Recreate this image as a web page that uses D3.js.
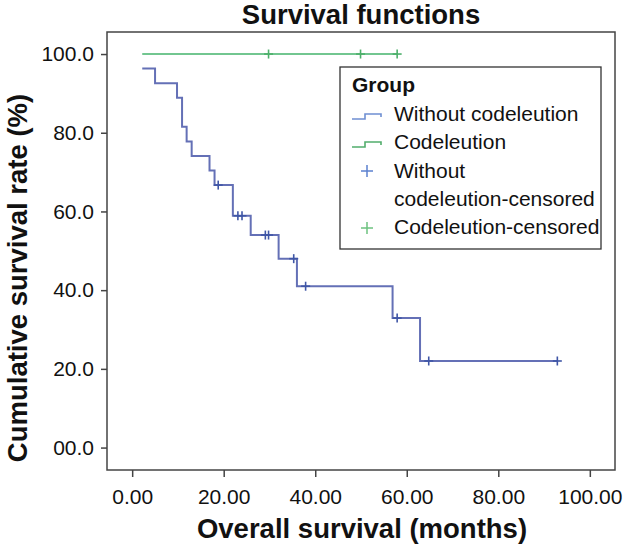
<!DOCTYPE html>
<html>
<head>
<meta charset="utf-8">
<script src="https://cdn.jsdelivr.net/npm/d3@7"></script>
<style>
  html, body { margin: 0; padding: 0; background: #fff; }
  svg { display: block; font-family: "Liberation Sans", Arial, sans-serif; }
</style>
</head>
<body>
<div id="chart"></div>
<script>
// ---------------- DATA ----------------
const titleText = "Survival functions";
const xTitle = "Overall survival (months)";
const yTitle = "Cumulative survival rate (%)";

const xTickValues = [0, 20, 40, 60, 80, 100];
const xTickLabels = ["0.00", "20.00", "40.00", "60.00", "80.00", "100.00"];
const yTickValues = [0, 20, 40, 60, 80, 100];
const yTickLabels = ["00.0", "20.0", "40.0", "60.0", "80.0", "100.0"];

const legendTitle = "Group";
const legendLabels = ["Without codeleution", "Codeleution", ["Without", "codeleution-censored"], "Codeleution-censored"];

// Group 1: Without codeletion (step times and survival after each step, %)
const blueTimes = [2.2, 5.0, 9.8, 10.9, 11.9, 13.0, 16.9, 18.0, 22.0, 25.9, 32.0, 36.0, 56.9, 62.9];
const blueSurv  = [96.3, 92.6, 88.9, 81.5, 77.8, 74.1, 70.4, 66.7, 58.9, 54.0, 48.0, 41.0, 32.9, 22.0];
const blueEnd = 92.9;
const blueCensored = [18.8, 23.1, 24.0, 29.1, 29.8, 35.3, 37.9, 57.9, 64.8, 92.9];

// Group 2: Codeletion
const greenTimes = [2.2];
const greenSurv  = [100.0];
const greenEnd = 57.9;
const greenCensored = [29.8, 49.9, 57.9];

// ---------------- LAYOUT ----------------
const W = 623, H = 544;
const M = { left: 107, right: 8, top: 32, bottom: 74 };
const colors = {
  blueLine: "#6470b6", blueMark: "#3f56a6",
  greenLine: "#72c690", greenMark: "#4caf6a",
  blueIcon: "#6f8fd2", greenIcon: "#52ad6c",
  blueLegPlus: "#5b80cf", greenLegPlus: "#6cc27f",
  frame: "#444", text: "#111"
};
const titleSize = 27.5;

const svg = d3.select("#chart").append("svg").attr("width", W).attr("height", H);

const x = d3.scaleLinear().domain([-5.5, 105.5]).range([M.left, W - M.right]);
const y = d3.scaleLinear().domain([-5.7, 105.6]).range([H - M.bottom, M.top]);

// frame
svg.append("rect")
  .attr("x", M.left).attr("y", M.top)
  .attr("width", W - M.right - M.left).attr("height", H - M.bottom - M.top)
  .attr("fill", "none").attr("stroke", colors.frame).attr("stroke-width", 1.5);

// axes
const xAxis = d3.axisBottom(x).tickValues(xTickValues)
  .tickFormat((d, i) => xTickLabels[i]).tickSize(7).tickPadding(12).tickSizeOuter(0);
const gx = svg.append("g").attr("transform", `translate(0,${H - M.bottom})`).call(xAxis);
gx.select(".domain").remove();
gx.selectAll("line").attr("stroke", colors.frame).attr("stroke-width", 1.5);
gx.selectAll("text").attr("font-size", 21).attr("fill", colors.text);

const yAxis = d3.axisLeft(y).tickValues(yTickValues)
  .tickFormat((d, i) => yTickLabels[i]).tickSize(6).tickPadding(7).tickSizeOuter(0);
const gy = svg.append("g").attr("transform", `translate(${M.left},0)`).call(yAxis);
gy.select(".domain").remove();
gy.selectAll("line").attr("stroke", colors.frame).attr("stroke-width", 1.5);
gy.selectAll("text").attr("font-size", 21).attr("fill", colors.text);

// titles
svg.append("text").attr("x", 361).attr("y", 24)
  .attr("text-anchor", "middle").attr("font-size", titleSize).attr("font-weight", "bold")
  .attr("fill", colors.text).text(titleText);
svg.append("text").attr("x", 362).attr("y", 538)
  .attr("text-anchor", "middle").attr("font-size", titleSize).attr("font-weight", "bold")
  .attr("fill", colors.text).text(xTitle);
svg.append("text").attr("transform", "translate(27,278) rotate(-90)")
  .attr("text-anchor", "middle").attr("font-size", titleSize).attr("font-weight", "bold")
  .attr("fill", colors.text).text(yTitle);

// survival step curves
function stepPoints(times, surv, end) {
  const pts = times.map((t, i) => [t, surv[i]]);
  pts.push([end, surv[surv.length - 1]]);
  return pts;
}
function survAt(times, surv, t) {
  let s = surv[0];
  for (let i = 0; i < times.length; i++) if (times[i] <= t + 1e-9) s = surv[i];
  return s;
}
const line = d3.line().x(d => x(d[0])).y(d => y(d[1])).curve(d3.curveStepAfter);

const plot = svg.append("g");
plot.append("path").datum(stepPoints(greenTimes, greenSurv, greenEnd))
  .attr("d", line).attr("fill", "none").attr("stroke", colors.greenLine).attr("stroke-width", 2);
plot.append("path").datum(stepPoints(blueTimes, blueSurv, blueEnd))
  .attr("d", line).attr("fill", "none").attr("stroke", colors.blueLine).attr("stroke-width", 2);

function drawCensor(g, times, surv, cens, color, r) {
  cens.forEach(t => {
    const cx = x(t), cy = y(survAt(times, surv, t));
    g.append("line").attr("x1", cx - r).attr("x2", cx + r).attr("y1", cy).attr("y2", cy)
      .attr("stroke", color).attr("stroke-width", 1.6);
    g.append("line").attr("x1", cx).attr("x2", cx).attr("y1", cy - r).attr("y2", cy + r)
      .attr("stroke", color).attr("stroke-width", 1.6);
  });
}
drawCensor(plot, greenTimes, greenSurv, greenCensored, colors.greenMark, 4.5);
drawCensor(plot, blueTimes, blueSurv, blueCensored, colors.blueMark, 4.5);

// legend
const leg = svg.append("g");
leg.append("rect").attr("x", 340).attr("y", 67).attr("width", 261).attr("height", 182)
  .attr("fill", "#fff").attr("stroke", "#333").attr("stroke-width", 1.3);
leg.append("text").attr("x", 352).attr("y", 92).attr("font-size", 21).attr("font-weight", "bold")
  .attr("fill", colors.text).text(legendTitle);

function stepIcon(yy, color) {
  const p = d3.path();
  p.moveTo(352, yy + 2); p.lineTo(365, yy + 2); p.lineTo(365, yy - 3);
  p.lineTo(381, yy - 3); p.lineTo(381, yy);
  leg.append("path").attr("d", p.toString()).attr("fill", "none")
    .attr("stroke", color).attr("stroke-width", 1.6);
}
function plusIcon(cx, cy, color) {
  leg.append("line").attr("x1", cx - 6).attr("x2", cx + 6).attr("y1", cy).attr("y2", cy)
    .attr("stroke", color).attr("stroke-width", 1.5);
  leg.append("line").attr("x1", cx).attr("x2", cx).attr("y1", cy - 6).attr("y2", cy + 6)
    .attr("stroke", color).attr("stroke-width", 1.5);
}
stepIcon(117, colors.blueIcon);
stepIcon(145, colors.greenIcon);
plusIcon(367, 171, colors.blueLegPlus);
plusIcon(367, 228, colors.greenLegPlus);

const tx = 394;
leg.append("text").attr("x", tx).attr("y", 121).attr("font-size", 21).attr("fill", colors.text).text(legendLabels[0]);
leg.append("text").attr("x", tx).attr("y", 149).attr("font-size", 21).attr("fill", colors.text).text(legendLabels[1]);
leg.append("text").attr("x", tx).attr("y", 178).attr("font-size", 21).attr("fill", colors.text).text(legendLabels[2][0]);
leg.append("text").attr("x", tx).attr("y", 206).attr("font-size", 21).attr("fill", colors.text).text(legendLabels[2][1]);
leg.append("text").attr("x", tx).attr("y", 234).attr("font-size", 21).attr("fill", colors.text).text(legendLabels[3]);
</script>
</body>
</html>
